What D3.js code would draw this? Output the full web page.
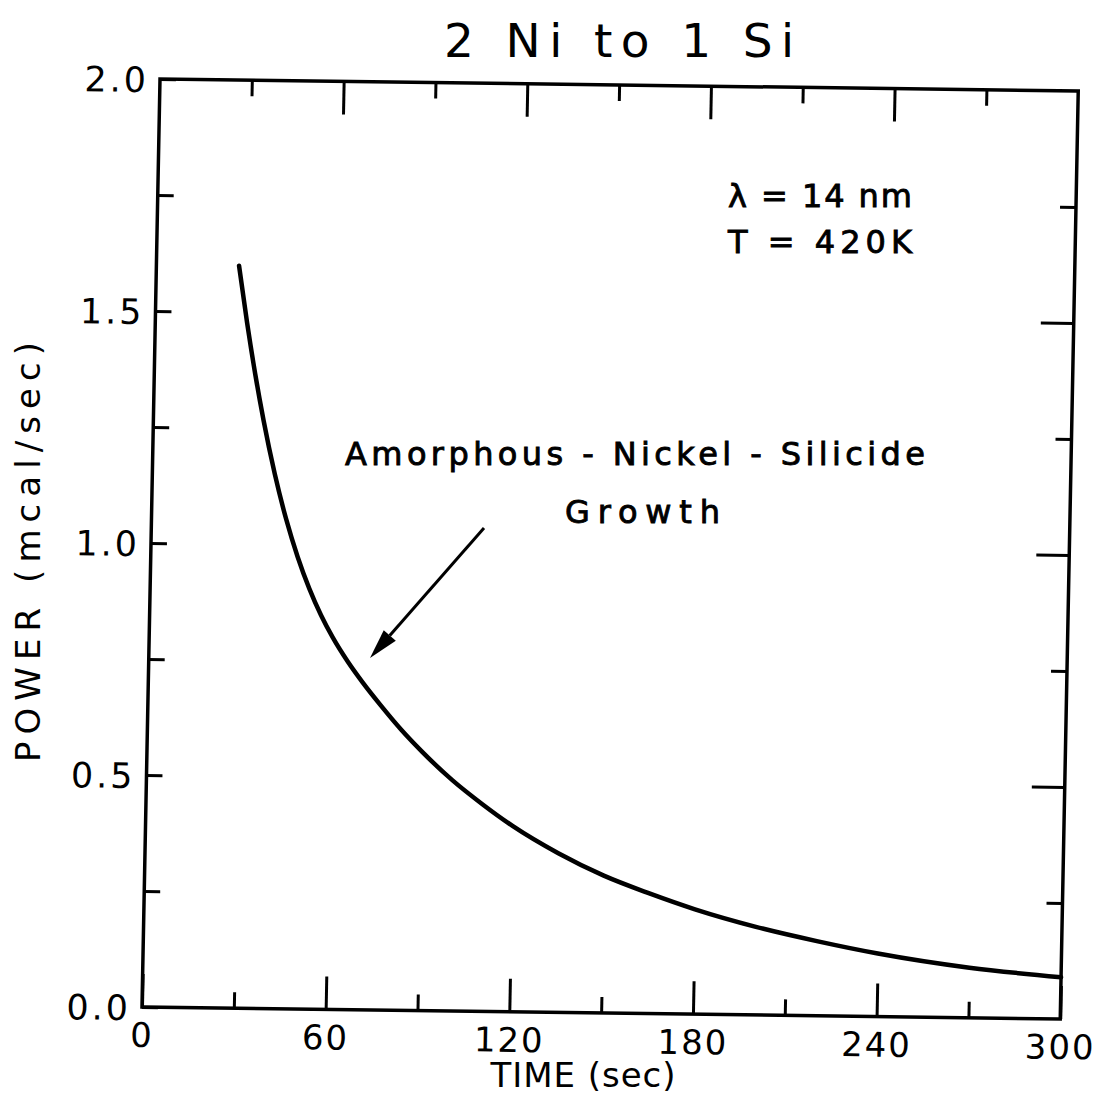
<!DOCTYPE html>
<html>
<head>
<meta charset="utf-8">
<script src="https://cdn.jsdelivr.net/npm/d3@7"></script>
<style>
  html, body { margin: 0; padding: 0; background: #fff; }
  svg { display: block; }
  text { font-family: "DejaVu Sans", sans-serif; fill: #000; }
</style>
</head>
<body>
<script>
// ---- data ----
const timeSec = [27, 30, 33, 36, 40, 44, 48, 52, 56, 60, 65, 70, 76, 83, 90, 100, 110, 120, 135, 150, 165, 180, 200, 220, 240, 270, 300];
const powerMcal = [1.600, 1.477, 1.366, 1.267, 1.152, 1.055, 0.974, 0.906, 0.849, 0.801, 0.750, 0.7055, 0.657, 0.604, 0.557, 0.497, 0.446, 0.400, 0.343, 0.296, 0.259, 0.226, 0.190, 0.161, 0.136, 0.108, 0.090];
const xMajorTicks = [0, 60, 120, 180, 240, 300];
const xMinorTicks = [30, 90, 150, 210, 270];
const yMajorTicks = [0, 0.5, 1.0, 1.5, 2.0];
const yMinorTicks = [0.25, 0.75, 1.25, 1.75];
const yTickLabels = ["0.0", "0.5", "1.0", "1.5", "2.0"];
const titleText = "2 Ni to 1 Si";
const xTitle = "TIME (sec)";
const yTitle = "POWER (mcal/sec)";
const noteLines = ["\u03bb = 14 nm", "T = 420K"];
const arrowLabel = ["Amorphous - Nickel - Silicide", "Growth"];

// ---- layout ----
const W = 921, H = 928;
const svg = d3.select("body").append("svg").attr("width", 1100).attr("height", 1111);

const x = d3.scaleLinear().domain([0, 300]).range([0, W]);
const y = d3.scaleLinear().domain([0, 2.0]).range([H, 0]);

// slight skew like the scanned original
const g = svg.append("g").attr("transform", "matrix(0.997,0.013,-0.0194,1,160,79)");

const MAJ = 33, MIN = 16;
const axisStyle = sel => {
  sel.select(".domain").remove();
  sel.selectAll("line").attr("stroke", "#000").attr("stroke-width", 3);
};

// bottom axis
g.append("g").attr("transform", `translate(0,${H})`)
  .call(d3.axisBottom(x).tickValues(xMajorTicks).tickSize(-MAJ).tickPadding(0).tickFormat(d3.format("d")))
  .call(axisStyle)
  .call(s => s.selectAll("text").attr("font-size", 34).attr("dy", 0).attr("y", 40).attr("letter-spacing", 2));
g.append("g").attr("transform", `translate(0,${H})`)
  .call(d3.axisBottom(x).tickValues(xMinorTicks).tickSize(-MIN).tickFormat(""))
  .call(axisStyle);
// top axis
g.append("g")
  .call(d3.axisTop(x).tickValues(xMajorTicks.slice(1, -1)).tickSize(-MAJ).tickFormat(""))
  .call(axisStyle);
g.append("g")
  .call(d3.axisTop(x).tickValues(xMinorTicks).tickSize(-MIN).tickFormat(""))
  .call(axisStyle);
// left axis
g.append("g")
  .call(d3.axisLeft(y).tickValues(yMajorTicks).tickSize(-MIN).tickPadding(0).tickFormat((d, i) => yTickLabels[i]))
  .call(axisStyle)
  .call(s => s.selectAll("text").attr("font-size", 35).attr("x", -11).attr("dy", "0.36em").attr("letter-spacing", 3));
g.append("g")
  .call(d3.axisLeft(y).tickValues(yMinorTicks).tickSize(-MIN).tickFormat(""))
  .call(axisStyle);
// right axis
g.append("g").attr("transform", `translate(${W},0)`)
  .call(d3.axisRight(y).tickValues(yMajorTicks.slice(1, -1)).tickSize(-MAJ).tickFormat(""))
  .call(axisStyle);
g.append("g").attr("transform", `translate(${W},0)`)
  .call(d3.axisRight(y).tickValues(yMinorTicks).tickSize(-MIN).tickFormat(""))
  .call(axisStyle);

// frame
g.append("rect").attr("x", 0).attr("y", 0).attr("width", W).attr("height", H)
  .attr("fill", "none").attr("stroke", "#000").attr("stroke-width", 3.5);

// curve
const line = d3.line().x((d, i) => x(timeSec[i])).y(d => y(d)).curve(d3.curveMonotoneX);
g.append("path").attr("d", line(powerMcal)).attr("fill", "none")
  .attr("stroke", "#000").attr("stroke-width", 4.5).attr("stroke-linecap", "round");

// annotation text
const annStyle = s => s.attr("font-size", 32).attr("stroke", "#000").attr("stroke-width", 0.9);
svg.append("text").attr("x", 345).attr("y", 465).call(annStyle)
  .attr("textLength", 580).attr("lengthAdjust", "spacing").text(arrowLabel[0]);
svg.append("text").attr("x", 565).attr("y", 523).call(annStyle)
  .attr("textLength", 155).attr("lengthAdjust", "spacing").text(arrowLabel[1]);

// arrow
const ax1 = 484, ay1 = 528, ax2 = 370, ay2 = 658;
const ang = Math.atan2(ay2 - ay1, ax2 - ax1);
const hl = 30, hw = 8;
const bx = ax2 - hl * Math.cos(ang), by = ay2 - hl * Math.sin(ang);
svg.append("line").attr("x1", ax1).attr("y1", ay1).attr("x2", bx).attr("y2", by)
  .attr("stroke", "#000").attr("stroke-width", 3);
svg.append("path")
  .attr("d", `M${ax2},${ay2} L${bx + hw * Math.sin(ang)},${by - hw * Math.cos(ang)} L${bx - hw * Math.sin(ang)},${by + hw * Math.cos(ang)} Z`)
  .attr("fill", "#000");

// conditions
noteLines.forEach((t, i) => {
  svg.append("text").attr("x", 728).attr("y", 207 + i * 46).call(annStyle)
    .attr("textLength", 184).attr("lengthAdjust", "spacing").text(t);
});

// titles
svg.append("text").attr("x", 619).attr("y", 57).attr("text-anchor", "middle")
  .attr("font-size", 47).attr("textLength", 350).attr("lengthAdjust", "spacing").text(titleText);
svg.append("text").attr("x", 583).attr("y", 1087).attr("text-anchor", "middle")
  .attr("font-size", 34).attr("textLength", 185).attr("lengthAdjust", "spacing").text(xTitle);
svg.append("text").attr("transform", "translate(40,552) rotate(-90)").attr("text-anchor", "middle")
  .attr("font-size", 34).attr("textLength", 420).attr("lengthAdjust", "spacing").text(yTitle);
</script>
</body>
</html>
